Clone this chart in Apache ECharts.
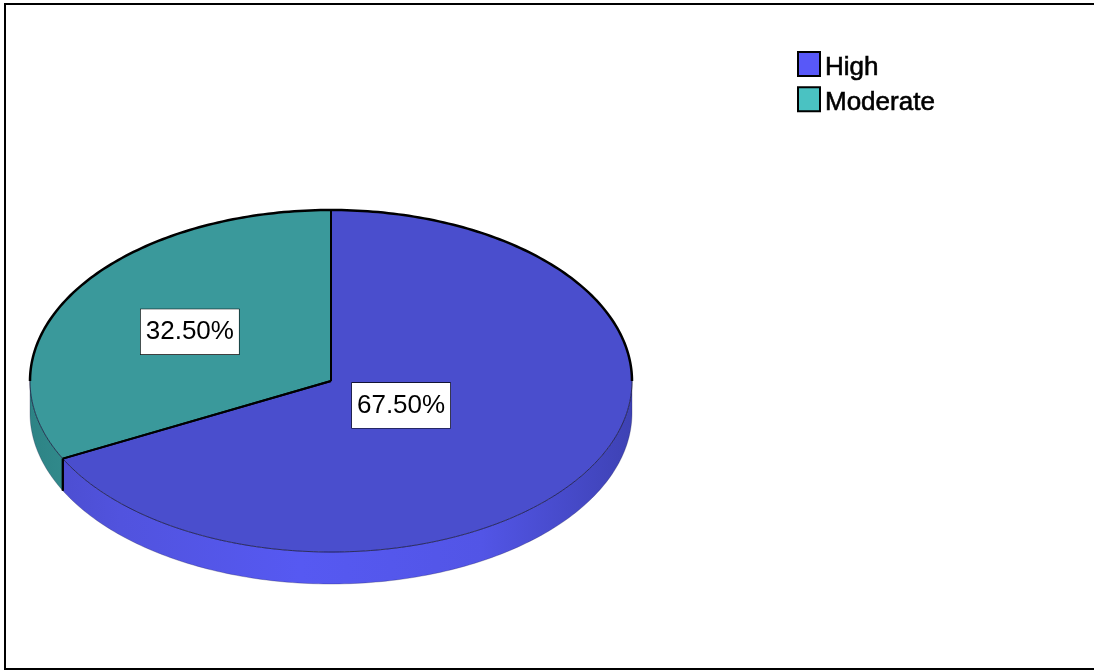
<!DOCTYPE html>
<html><head><meta charset="utf-8">
<script src="https://cdn.jsdelivr.net/npm/echarts@6/dist/echarts.min.js"></script>
<style>html,body{margin:0;padding:0;background:#fff}#c{width:1094px;height:671px}</style>
</head><body><div id="c"></div>
<script>
const categories = ['High', 'Moderate'];
const values = [67.5, 32.5];

// styling / layout constants
const topColors = ['#4A4ECD', '#3A999B'];
const legendColors = ['#5858F8', '#4AC2C2'];
const labelDist = [0.273, 0.55];
const CX = 331, CY = 381, RX = 301, RY = 171, DEPTH = 32;
const FONT = '"Liberation Sans", Arial, sans-serif';

const sideGrad = [
  {type:'linear', x:CX-RX, y:0, x2:CX+RX, y2:0, global:true, colorStops:[
    {offset:0, color:'#4A4CCB'},{offset:0.15, color:'#5153DE'},{offset:0.45, color:'#5659F2'},
    {offset:0.75, color:'#5255E6'},{offset:1, color:'#3E42B4'}]},
  {type:'linear', x:CX-RX, y:0, x2:CX-RX+60, y2:0, global:true, colorStops:[
    {offset:0, color:'#2D8385'},{offset:1, color:'#348F90'}]}
];

const total = values.reduce((a, b) => a + b, 0);
function pt(deg, dy) {
  const r = deg * Math.PI / 180;
  return [CX + RX * Math.sin(r), CY - RY * Math.cos(r) + (dy || 0)];
}
function arc(a, b, dy) {
  const pts = [];
  const n = Math.max(2, Math.ceil(Math.abs(b - a)));
  for (let i = 0; i <= n; i++) pts.push(pt(a + (b - a) * i / n, dy));
  return pts;
}
function clip(a0, a1, lo, hi) {
  const s = Math.max(a0, lo), e = Math.min(a1, hi);
  return e > s ? [s, e] : null;
}

function makeRender(i) {
  return function (params, api) {
    const v = api.value(0);
    let start = 0;
    for (let k = 0; k < i; k++) start += values[k];
    const a0 = start / total * 360, a1 = (start + v) / total * 360;
    const ch = [];
    // side wall (front half: 90..270)
    const sd = clip(a0, a1, 90, 270);
    if (sd) {
      const pts = arc(sd[0], sd[1], 0).concat(arc(sd[1], sd[0], DEPTH));
      ch.push({type:'polygon', z2:1, shape:{points:pts},
        style:{fill:sideGrad[i], stroke:'rgba(30,30,70,0.35)', lineWidth:0.8}});
      [a0, a1].forEach(a => {
        if (a > 90 && a < 270) {
          ch.push({type:'line', z2:3, shape:{x1:pt(a)[0], y1:pt(a)[1], x2:pt(a, DEPTH)[0], y2:pt(a, DEPTH)[1]},
            style:{stroke:'#000', lineWidth:2}});
        }
      });
    }
    // top face
    ch.push({type:'polygon', z2:2, shape:{points:[[CX, CY]].concat(arc(a0, a1, 0))},
      style:{fill:topColors[i]}});
    // front outline (thin)
    const fr = clip(a0, a1, 90, 270);
    if (fr) ch.push({type:'polyline', z2:3, shape:{points:arc(fr[0], fr[1], 0)},
      style:{stroke:'rgba(25,25,60,0.75)', lineWidth:1, fill:null}});
    // back outline (thick)
    [[0, 90], [270, 360]].forEach(r => {
      const b = clip(a0, a1, r[0], r[1]);
      if (b) ch.push({type:'polyline', z2:4, shape:{points:arc(b[0], b[1], 0)},
        style:{stroke:'#000', lineWidth:2.5, fill:null}});
    });
    // radial edges
    [a0, a1].forEach(a => {
      const p = pt(a);
      ch.push({type:'line', z2:4, shape:{x1:CX, y1:CY, x2:p[0], y2:p[1]},
        style:{stroke:'#000', lineWidth:2}});
    });
    // label
    const m = (a0 + a1) / 2, r = m * Math.PI / 180, k = labelDist[i];
    ch.push({type:'text', z2:10, style:{
      text: v.toFixed(2) + '%', x: CX + RX * k * Math.sin(r), y: CY - RY * k * Math.cos(r),
      align:'center', verticalAlign:'middle', fontSize:26, fontFamily:FONT, fill:'#000',
      textBorderColor:'#000', textBorderWidth:0.6,
      lineHeight:33, backgroundColor:'#fff', borderColor:'#000', borderWidth:2.5, padding:[6, 5, 6, 5]}});
    return {type:'group', children:ch};
  };
}

const chart = echarts.init(document.getElementById('c'), null, {renderer:'canvas'});
chart.setOption({
  animation:false,
  backgroundColor:'#fff',
  legend:{
    data:categories, orient:'vertical', left:797, top:51, padding:0,
    itemWidth:22, itemHeight:24, itemGap:5, icon:'rect',
    itemStyle:{borderColor:'#000', borderWidth:2},
    formatter: name => '{t|' + name + '}',
    textStyle:{fontSize:26, fontFamily:FONT, color:'#000',
      rich:{t:{fontSize:26, fontFamily:FONT, color:'#000', padding:[8,0,0,0],
        textBorderColor:'#000', textBorderWidth:0.6}}}
  },
  graphic:[{type:'rect', silent:true, shape:{x:5, y:4, width:1100, height:665},
    style:{fill:null, stroke:'#000', lineWidth:2}}],
  series: categories.map((name, i) => ({
    type:'custom', name:name, coordinateSystem:'none',
    itemStyle:{color:legendColors[i]},
    data:[[values[i]]],
    renderItem: makeRender(i)
  }))
});
</script></body></html>
